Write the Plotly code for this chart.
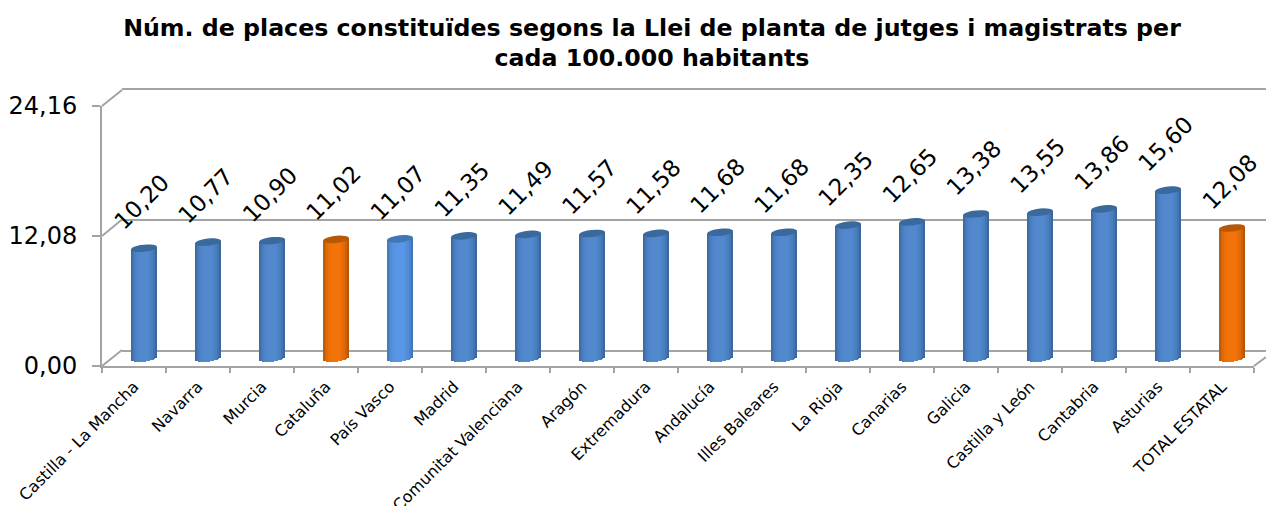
import math
import plotly.graph_objects as go

categories = ["Castilla - La Mancha", "Navarra", "Murcia", "Cataluña", "País Vasco", "Madrid",
              "Comunitat Valenciana", "Aragón", "Extremadura", "Andalucía", "Illes Baleares",
              "La Rioja", "Canarias", "Galicia", "Castilla y León", "Cantabria", "Asturias",
              "TOTAL ESTATAL"]
values = [10.20, 10.77, 10.90, 11.02, 11.07, 11.35, 11.49, 11.57, 11.58, 11.68, 11.68,
          12.35, 12.65, 13.38, 13.55, 13.86, 15.60, 12.08]
value_labels = ["10,20", "10,77", "10,90", "11,02", "11,07", "11,35", "11,49", "11,57", "11,58",
                "11,68", "11,68", "12,35", "12,65", "13,38", "13,55", "13,86", "15,60", "12,08"]
y_ticks = [0, 12.08, 24.16]
y_tick_labels = ["0,00", "12,08", "24,16"]
title = "Núm. de places constituïdes segons la Llei de planta de jutges i magistrats per<br>cada 100.000 habitants"

W, H = 1266, 506
L, T, B = 102, 90, 140
PW, PH = W - L, H - T - B
FRAME = "#a3a3a3"
TXT = "#000000"
RANGE = 24.16
PX_Y = 260 / RANGE
BAR_W = 26 / 64
CAP_H = 3.6 / PX_Y
TILT = 1.3 / PX_Y

BLUE = ("#33608f", "#5389cf")
SKY = ("#3c6ea8", "#5997e8")
ORANGE = ("#a55006", "#f57309")
palette = [BLUE] * 18
palette[3] = ORANGE
palette[4] = SKY
palette[17] = ORANGE


def mix(a, b, t):
    ca = [int(a[i:i + 2], 16) for i in (1, 3, 5)]
    cb = [int(b[i:i + 2], 16) for i in (1, 3, 5)]
    return "#%02x%02x%02x" % tuple(round(p + (q - p) * t) for p, q in zip(ca, cb))


def shade(u):
    # horizontal light profile of the cylinder, u from -1 (left) to 1 (right)
    stops = [(-1, .2), (-.75, .65), (-.4, .95), (.3, 1), (.7, .7), (1, .05)]
    for (u0, s0), (u1, s1) in zip(stops, stops[1:]):
        if u <= u1:
            return s0 + (s1 - s0) * (u - u0) / (u1 - u0)
    return 0


fig = go.Figure()
xs = [i + .5 for i in range(len(values))]

# invisible trace so the labelled front axes are drawn
fig.add_trace(go.Scatter(x=xs, y=values, xaxis="x", yaxis="y", mode="markers",
                         marker=dict(opacity=0), hoverinfo="skip", showlegend=False))
# back wall gridlines
fig.add_trace(go.Scatter(x=xs, y=values, xaxis="x2", yaxis="y2", mode="markers",
                         marker=dict(opacity=0), hoverinfo="skip", showlegend=False))
# true-valued bar underneath
fig.add_trace(go.Bar(x=xs, y=values, xaxis="x3", yaxis="y3", width=BAR_W * .92,
                     marker=dict(color=[mix(d, l, .5) for d, l in palette], line_width=0),
                     showlegend=False, name="valor"))
# cylinder shading strips
N = 14
for k in range(N):
    u = -1 + (2 * k + 1) / N
    s = shade(u)
    tops = [v + TILT * u for v in values]
    bases = [-CAP_H * math.sqrt(max(0, 1 - u * u)) + TILT * u for _ in values]
    fig.add_trace(go.Bar(
        x=[x + u * BAR_W / 2 for x in xs],
        y=[t - b for t, b in zip(tops, bases)],
        base=bases, xaxis="x3", yaxis="y3", width=BAR_W / N * 1.25,
        marker=dict(color=[mix(d, l, s) for d, l in palette], line_width=0),
        showlegend=False, hoverinfo="skip"))

shapes = []
# tilted elliptical top cap of each cylinder
for x, v, (d, l) in zip(xs, values, palette):
    pts = []
    for a in range(0, 360, 15):
        c, sn = math.cos(math.radians(a)), math.sin(math.radians(a))
        pts.append((x + c * BAR_W / 2, v + sn * CAP_H + c * TILT))
    path = "M " + " L ".join(f"{px:.4f},{py:.4f}" for px, py in pts) + " Z"
    shapes.append(dict(type="path", path=path, xref="x3", yref="y3",
                       fillcolor=mix(d, l, .22), line_width=0, layer="above"))


# receding edges of the 3D frame
def px(x):
    return (x - L) / PW


def py(y):
    return (H - B - y) / PH


for x0, y0, x1, y1 in [(102, 106, 122, 90), (102, 236, 122, 219.5), (102, 366, 122, 350),
                       (1254, 366, 1266, 357)]:
    shapes.append(dict(type="line", xref="paper", yref="paper", x0=px(x0), y0=py(y0), x1=px(x1), y1=py(y1),
                       line=dict(color=FRAME, width=2), layer="below"))

annotations = [dict(x=x, y=v, xref="x3", yref="y3", text=t, showarrow=False, textangle=-45,
                    xanchor="center", yanchor="middle", xshift=-2.5, yshift=46,
                    font=dict(family="DejaVu Sans", size=23, color=TXT))
               for x, v, t in zip(xs, values, value_labels)]

fig.update_layout(
    width=W, height=H, autosize=False, paper_bgcolor="white", plot_bgcolor="rgba(0,0,0,0)",
    margin=dict(l=L, r=0, t=T, b=B, pad=0, autoexpand=False), barmode="overlay", bargap=0, showlegend=False,
    title=dict(text=title, x=652 / W, xanchor="center", xref="container", y=1 - 35.5 / H, yanchor="middle",
               pad=dict(t=0, b=0), yref="container", automargin=False,
               font=dict(family="DejaVu Sans", size=23.7, color=TXT, weight="bold")),
    shapes=shapes, annotations=annotations,
    # front plane: labelled axes
    xaxis=dict(domain=[0, 1152 / PW], range=[0, 18], tickmode="array", tickvals=xs, ticktext=categories,
               tickangle=-45, ticks="", showgrid=False, zeroline=False, showline=True, automargin=False,
               linecolor=FRAME, linewidth=2, anchor="y", ticklabelstandoff=3,
               tickfont=dict(family="DejaVu Sans", size=16, color=TXT),
               minor=dict(tickmode="array", tickvals=list(range(19)), ticks="outside", ticklen=5,
                          tickcolor=FRAME, tickwidth=2, showgrid=False)),
    yaxis=dict(domain=[0, 260 / PH], range=[0, RANGE], tickmode="array", tickvals=y_ticks,
               ticktext=y_tick_labels, ticks="outside", ticklen=8, tickcolor=FRAME, tickwidth=2,
               showgrid=False, zeroline=False, showline=True, linecolor=FRAME, linewidth=2,
               ticklabelstandoff=10, anchor="x", automargin=False,
               tickfont=dict(family="DejaVu Sans", size=24, color=TXT)),
    # back wall: top and bottom edges from the mirrored axis line, middle from the grid
    xaxis2=dict(domain=[20 / PW, 1], range=[0, 18], anchor="y2", automargin=False, showgrid=False, zeroline=False,
                showline=True, mirror=True, linecolor=FRAME, linewidth=2, ticks="", showticklabels=False),
    yaxis2=dict(domain=[16 / PH, 1], range=[0, RANGE], anchor="x2", showgrid=True, automargin=False,
                gridcolor=FRAME, gridwidth=2, tickmode="array", tickvals=y_ticks, showticklabels=False,
                ticks="", zeroline=False, showline=False),
    # cylinders sit inside the box, between front and back planes
    xaxis3=dict(domain=[10 / PW, 1162 / PW], range=[0, 18], anchor="y3", visible=False, automargin=False),
    yaxis3=dict(domain=[0, 268 / PH], range=[-8 / PX_Y, RANGE], anchor="x3", visible=False, automargin=False),
)
fig.write_html("out.html", post_script="document.body.style.margin='0';document.documentElement.style.overflow='hidden';",
               config=dict(displayModeBar=False))
